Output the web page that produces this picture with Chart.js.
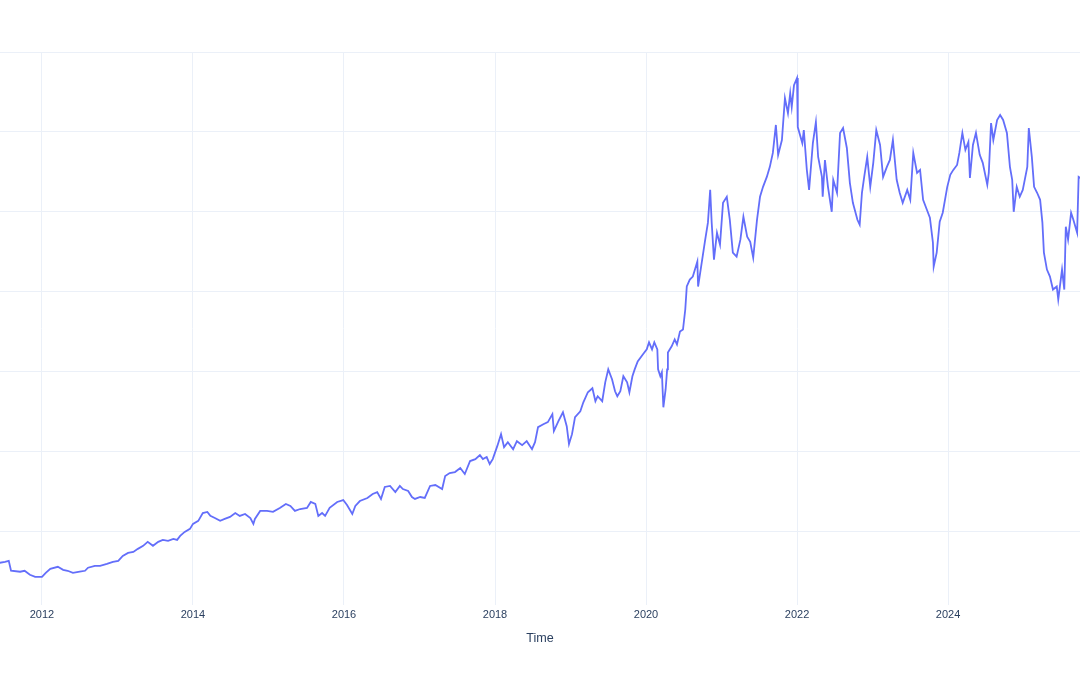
<!DOCTYPE html>
<html>
<head>
<meta charset="utf-8">
<script src="https://cdn.jsdelivr.net/npm/chart.js@4.4.1/dist/chart.umd.min.js"></script>
<style>
  html, body { margin: 0; padding: 0; background: #fff; }
  #wrap { width: 1080px; height: 675px; position: relative; }
</style>
</head>
<body>
<div id="wrap"><canvas id="myChart"></canvas></div>
<script>
// dates as decimal years
let dates = [
    2011.44, 2011.51, 2011.56, 2011.59, 2011.71, 2011.77, 2011.84, 2011.91,
    2012.00, 2012.05, 2012.11, 2012.21, 2012.28, 2012.34, 2012.41, 2012.50, 2012.57, 2012.61, 2012.70, 2012.77, 2012.86, 2012.94,
    2013.01, 2013.07, 2013.14, 2013.21, 2013.27, 2013.34, 2013.40, 2013.47, 2013.54, 2013.60, 2013.67, 2013.74, 2013.79, 2013.83, 2013.89, 2013.96,
    2014.00, 2014.07, 2014.13, 2014.19, 2014.23, 2014.29, 2014.36, 2014.42, 2014.49, 2014.56, 2014.62, 2014.69, 2014.76, 2014.80, 2014.82, 2014.89, 2014.98,
    2015.06, 2015.15, 2015.23, 2015.29, 2015.35, 2015.42, 2015.51, 2015.56, 2015.62, 2015.66, 2015.71, 2015.75, 2015.81, 2015.91, 2015.99,
    2016.04, 2016.11, 2016.15, 2016.21, 2016.31, 2016.38, 2016.44, 2016.49, 2016.54, 2016.61, 2016.68, 2016.74, 2016.78, 2016.85, 2016.90, 2016.94,
    2017.01, 2017.07, 2017.14, 2017.21, 2017.30, 2017.34, 2017.40, 2017.47, 2017.54, 2017.60, 2017.67, 2017.74, 2017.80, 2017.84, 2017.89, 2017.93, 2017.97,
    2018.03, 2018.08, 2018.12, 2018.17, 2018.24, 2018.29, 2018.36, 2018.42, 2018.49, 2018.53, 2018.57, 2018.64, 2018.70, 2018.76, 2018.78, 2018.84, 2018.90, 2018.95, 2018.98,
    2019.02, 2019.06, 2019.13, 2019.17, 2019.23, 2019.29, 2019.33, 2019.36, 2019.42, 2019.46, 2019.50, 2019.55, 2019.59, 2019.62, 2019.66, 2019.70, 2019.75, 2019.78, 2019.82, 2019.85, 2019.89, 2019.96,
    2020.01, 2020.04, 2020.08, 2020.11, 2020.15, 2020.16, 2020.19, 2020.21, 2020.23, 2020.26, 2020.28, 2020.29, 2020.34, 2020.38, 2020.41, 2020.45, 2020.49, 2020.52, 2020.54, 2020.58, 2020.62, 2020.68, 2020.69, 2020.73, 2020.75, 2020.78, 2020.82, 2020.85, 2020.87, 2020.90, 2020.94, 2020.98,
    2021.02, 2021.07, 2021.11, 2021.15, 2021.20, 2021.25, 2021.29, 2021.34, 2021.38, 2021.42, 2021.47, 2021.51, 2021.55, 2021.60, 2021.64, 2021.68, 2021.72, 2021.75, 2021.80, 2021.84, 2021.88, 2021.91, 2021.93, 2021.96,
    2022.00, 2022.01, 2022.07, 2022.09, 2022.13, 2022.16, 2022.21, 2022.25, 2022.28, 2022.33, 2022.34, 2022.37, 2022.41, 2022.46, 2022.48, 2022.53, 2022.57, 2022.61, 2022.66, 2022.70, 2022.74, 2022.80, 2022.83, 2022.86, 2022.89, 2022.93, 2022.97,
    2023.01, 2023.05, 2023.10, 2023.14, 2023.19, 2023.23, 2023.27, 2023.32, 2023.36, 2023.40, 2023.46, 2023.50, 2023.54, 2023.59, 2023.63, 2023.67, 2023.72, 2023.76, 2023.80, 2023.81, 2023.85, 2023.89, 2023.93, 2023.99,
    2024.03, 2024.07, 2024.12, 2024.15, 2024.19, 2024.23, 2024.27, 2024.29, 2024.33, 2024.37, 2024.42, 2024.46, 2024.52, 2024.54, 2024.57, 2024.60, 2024.65, 2024.69, 2024.73, 2024.78, 2024.82, 2024.85, 2024.87, 2024.91, 2024.95, 2024.99,
    2025.05, 2025.07, 2025.11, 2025.14, 2025.18, 2025.22, 2025.25, 2025.27, 2025.31, 2025.35, 2025.39, 2025.44, 2025.46, 2025.51, 2025.54, 2025.56, 2025.59, 2025.63, 2025.66, 2025.71, 2025.73, 2025.75
];

let prices = [
    30.7, 31.3, 31.9, 25.7, 25.1, 25.7, 23.2, 21.9,
    21.9, 24.4, 26.9, 28.2, 26.3, 25.7, 24.4, 25.1, 25.7, 27.6, 28.8, 28.8, 30.0, 31.3,
    31.9, 35.0, 36.9, 37.5, 39.4, 41.3, 43.8, 41.3, 43.8, 45.0, 44.4, 45.6, 45.0, 47.5, 50.0, 51.9,
    55.0, 56.9, 61.8, 62.5, 60.0, 58.7, 56.9, 58.1, 59.4, 61.8, 60.0, 61.2, 58.7, 55.0, 58.1, 63.1, 63.1,
    62.5, 65.0, 67.5, 66.2, 63.1, 64.3, 65.0, 68.7, 67.5, 60.0, 61.8, 60.0, 65.0, 68.7, 69.9,
    66.8, 61.2, 66.2, 69.3, 71.2, 73.7, 74.9, 70.6, 78.1, 78.7, 74.9, 78.7, 76.8, 75.6, 71.8, 70.6,
    71.8, 71.2, 78.7, 79.3, 76.8, 84.9, 86.8, 87.4, 89.9, 86.2, 94.3, 95.5, 98.0, 95.5, 96.8, 92.4, 95.5,
    103.6, 111.1, 103.0, 106.1, 101.7, 106.7, 104.2, 106.7, 101.7, 106.1, 115.5, 117.3, 118.6, 123.6, 113.0, 119.2, 124.8, 116.1, 104.9,
    111.1, 121.7, 125.4, 131.0, 137.3, 139.8, 131.7, 134.8, 131.7, 143.5, 151.6, 145.4, 137.9, 134.8, 137.9, 147.3, 143.5, 137.3, 147.3, 151.6, 156.6, 161.0,
    164.1, 168.5, 164.1, 168.5, 164.1, 151.6, 147.3, 149.8, 127.9, 139.2, 151.6, 162.2, 166.0, 170.3, 167.2, 175.3, 176.6, 189.0, 203.4, 207.7, 209.6, 219.0, 203.4, 215.8, 222.1, 231.4, 243.3, 263.8, 243.3, 220.2, 237.0, 229.6,
    255.7, 259.5, 245.1, 224.6, 222.1, 232.7, 247.0, 234.5, 231.4, 221.4, 245.1, 259.5, 265.7, 271.9, 278.2, 286.9, 304.4, 285.7, 295.0, 321.2, 311.8, 324.3, 315.6, 329.3,
    333.7, 303.1, 293.1, 301.2, 276.3, 263.8, 293.1, 306.2, 284.4, 271.9, 259.5, 282.5, 265.7, 250.1, 270.1, 262.0, 299.4, 302.5, 290.0, 268.2, 255.7, 245.1, 242.0, 262.0, 271.9, 284.4, 265.7,
    280.7, 301.2, 291.9, 271.9, 278.2, 282.5, 295.0, 270.1, 262.0, 255.7, 263.8, 257.6, 286.9, 274.4, 276.3, 257.6, 251.4, 246.4, 230.8, 215.8, 224.6, 243.9, 249.5, 265.7,
    273.2, 276.3, 279.4, 286.9, 299.4, 288.8, 293.8, 271.3, 291.9, 299.4, 285.7, 280.7, 267.0, 274.4, 305.6, 295.0, 307.5, 310.6, 307.5, 299.4, 278.2, 270.1, 250.1, 265.7, 259.5, 263.8,
    278.2, 302.5, 284.4, 265.7, 262.0, 257.6, 243.3, 224.6, 214.0, 209.6, 201.5, 203.4, 195.3, 214.0, 201.5, 240.8, 232.7, 249.5, 245.1, 237.0, 271.9, 271.3
];

let tickYears = [2012, 2014, 2016, 2018, 2020, 2022, 2024];
let yGridValues = [50, 100, 150, 200, 250, 300, 350];

let points = dates.map((d, i) => ({ x: d, y: prices[i] }));

var ctx = document.getElementById('myChart').getContext('2d');
var chart = new Chart(ctx, {
    type: 'line',
    data: {
        datasets: [{
            label: 'Close',
            data: points,
            borderColor: '#636efa',
            borderWidth: 1.8,
            pointRadius: 0,
            tension: 0
        }]
    },
    options: {
        responsive: true,
        maintainAspectRatio: false,
        animation: false,
        layout: { padding: { top: 52, left: 0, right: 0, bottom: 25 } },
        plugins: { legend: { display: false }, tooltip: { enabled: false } },
        scales: {
            x: {
                type: 'linear',
                min: 2011.444,
                max: 2025.748,
                afterBuildTicks: scale => { scale.ticks = tickYears.map(v => ({ value: v })); },
                ticks: {
                    color: '#2a3f5f',
                    font: { family: 'Liberation Sans', size: 11 },
                    padding: 4,
                    maxRotation: 0,
                    callback: v => String(v)
                },
                grid: { color: '#ebf0f8', lineWidth: 1, drawTicks: false },
                border: { display: false },
                title: {
                    display: true,
                    text: 'Time',
                    color: '#2a3f5f',
                    font: { family: 'Liberation Sans', size: 12.6 },
                    padding: { top: 5, bottom: 4 }
                }
            },
            y: {
                min: 4.5,
                max: 350,
                afterBuildTicks: scale => { scale.ticks = yGridValues.map(v => ({ value: v })); },
                ticks: { display: false },
                grid: { color: '#ebf0f8', lineWidth: 1, drawTicks: false },
                border: { display: false }
            }
        }
    }
});
</script>
</body>
</html>
